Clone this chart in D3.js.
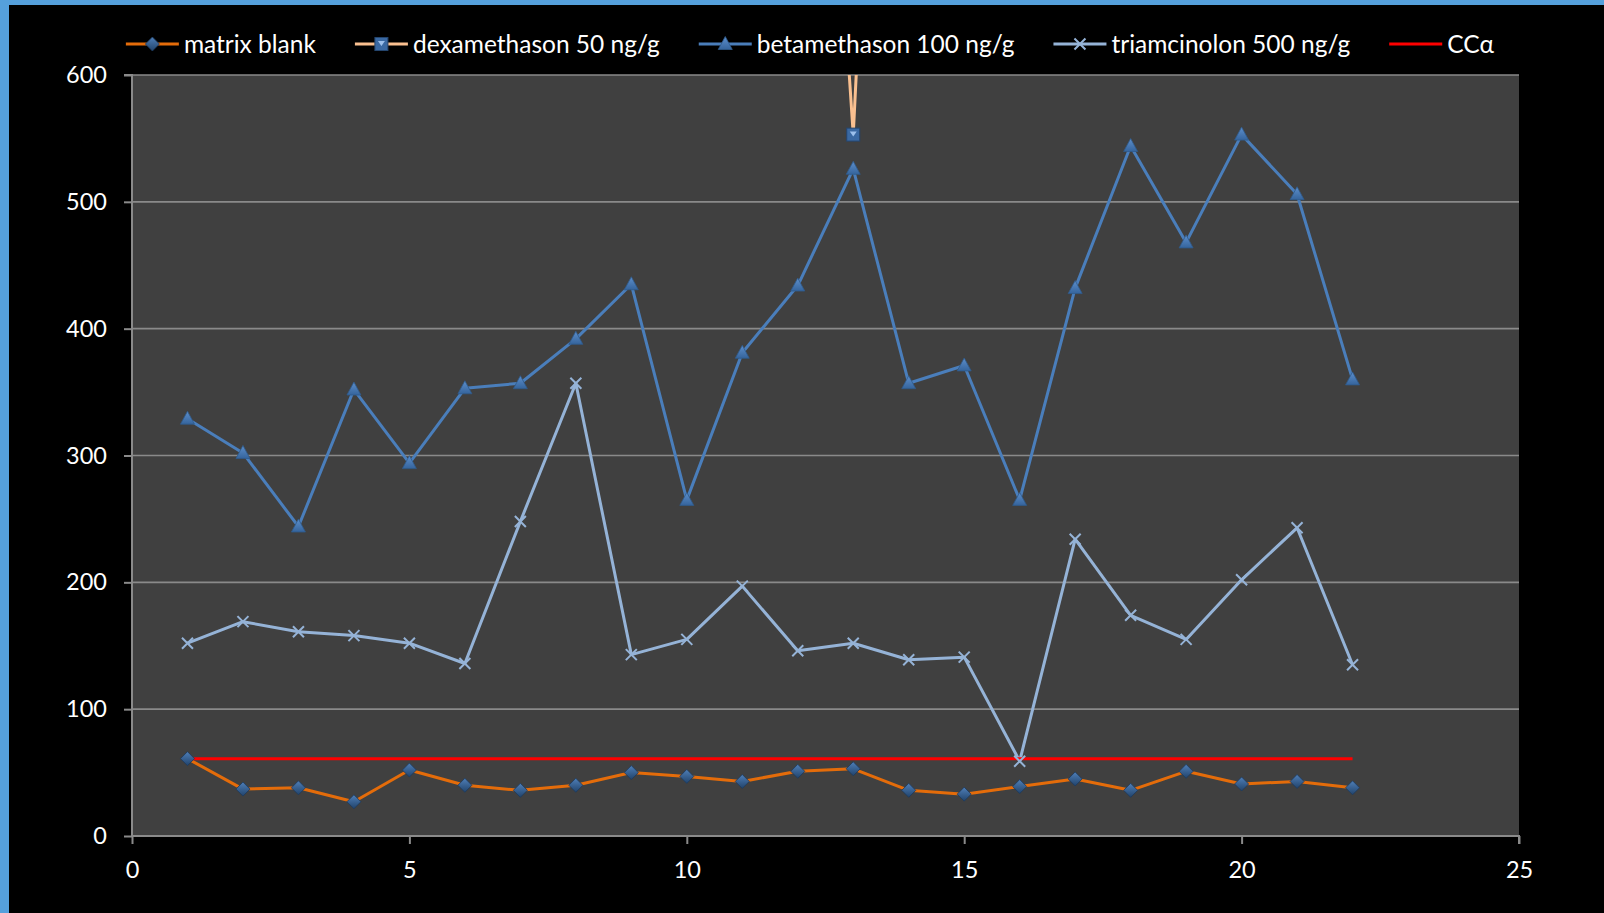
<!DOCTYPE html>
<html><head><meta charset="utf-8">
<script src="https://cdn.jsdelivr.net/npm/d3@7"></script>
<style>html,body{margin:0;padding:0;background:#000;}svg{display:block;}</style>
</head><body>
<svg id="chart" width="1604" height="913"></svg>
<script>
// ---- data ----
const xValues = [1,2,3,4,5,6,7,8,9,10,11,12,13,14,15,16,17,18,19,20,21,22];
const matrixBlank = [61,37,38,27,52,40,36,40,50,47,43,51,53,36,33,39,45,36,51,41,43,38];
// dexamethason: only x=13 lies inside the axis range; neighbours estimated from the line slopes, others off-scale (unreadable)
const dexamethason = [null,null,null,null,null,null,null,null,null,null,null,1210,553,1430,null,null,null,null,null,null,null,null];
const betamethason = [329,302,244,352,294,353,357,392,435,265,381,434,526,357,371,265,432,544,468,553,506,360];
const triamcinolon = [152,169,161,158,152,136,248,357,143,155,197,146,152,139,141,59,234,174,155,202,243,135];
const ccAlpha = [61,61,61,61,61,61,61,61,61,61,61,61,61,61,61,61,61,61,61,61,61,61];
const seriesNames = ["matrix blank","dexamethason 50 ng/g","betamethason 100 ng/g","triamcinolon 500 ng/g","CCα"];
const yTicks = [0,100,200,300,400,500,600];
const xTicks = [0,5,10,15,20,25];

// ---- layout ----
const W = 1604, H = 913;
const plot = {left:132, right:1519, top:75, bottom:836};
const svg = d3.select("#chart");
const FONT = "Lato, 'Open Sans', sans-serif";

svg.append("rect").attr("width",W).attr("height",H).attr("fill","#000");
svg.append("rect").attr("x",0).attr("y",0).attr("width",9).attr("height",H).attr("fill","#55a0dc");
svg.append("rect").attr("x",0).attr("y",0).attr("width",W).attr("height",5).attr("fill","#55a0dc");

const x = d3.scaleLinear().domain([0,25]).range([plot.left, plot.right]);
const y = d3.scaleLinear().domain([0,600]).range([plot.bottom, plot.top]);

svg.append("rect").attr("x",plot.left).attr("y",plot.top)
  .attr("width",plot.right-plot.left).attr("height",plot.bottom-plot.top).attr("fill","#404040");

// gridlines
svg.append("g").selectAll("line").data(yTicks.filter(d=>d>0)).join("line")
  .attr("x1",plot.left).attr("x2",plot.right)
  .attr("y1",d=>y(d)).attr("y2",d=>y(d))
  .attr("stroke","#8a8a8a").attr("stroke-width",1.6);

// axes
const axisColor = "#8a8a8a";
const yAxis = svg.append("g").attr("transform",`translate(${plot.left},0)`)
  .call(d3.axisLeft(y).tickValues(yTicks).tickSize(8).tickPadding(17).tickFormat(d3.format("d")));
const xAxis = svg.append("g").attr("transform",`translate(0,${plot.bottom})`)
  .call(d3.axisBottom(x).tickValues(xTicks).tickSize(8).tickPadding(17).tickFormat(d3.format("d")));
[yAxis,xAxis].forEach(g=>{
  g.select(".domain").attr("stroke",axisColor).attr("stroke-width",2);
  g.selectAll(".tick line").attr("stroke",axisColor).attr("stroke-width",2);
  g.selectAll("text").attr("fill","#fff").attr("font-family",FONT).attr("font-size",23.5);
});
yAxis.select(".domain").attr("d",`M-8,${plot.top}H0V${plot.bottom}`);
xAxis.select(".domain").attr("d",`M${plot.left},0H${plot.right}V8`);

// clip
svg.append("clipPath").attr("id","clip").append("rect")
  .attr("x",plot.left).attr("y",plot.top).attr("width",plot.right-plot.left).attr("height",plot.bottom-plot.top);

const defs = svg.append("defs");
const gradDia = defs.append("linearGradient").attr("id","gDia").attr("x1",0).attr("y1",0).attr("x2",0).attr("y2",1);
gradDia.append("stop").attr("offset","0%").attr("stop-color","#4f7fb8");
gradDia.append("stop").attr("offset","100%").attr("stop-color","#21436b");
const gradTri = defs.append("linearGradient").attr("id","gTri").attr("x1",0).attr("y1",0).attr("x2",0).attr("y2",1);
gradTri.append("stop").attr("offset","0%").attr("stop-color","#5d8fcc");
gradTri.append("stop").attr("offset","100%").attr("stop-color","#35649c");

const series = [
  {name:seriesNames[0], values:matrixBlank, color:"#E46C0A", marker:"diamond"},
  {name:seriesNames[1], values:dexamethason, color:"#FAC090", marker:"square"},
  {name:seriesNames[2], values:betamethason, color:"#4A7EBB", marker:"triangle"},
  {name:seriesNames[3], values:triamcinolon, color:"#95B3D7", marker:"x"},
  {name:seriesNames[4], values:ccAlpha, color:"#FF0000", marker:null}
];

const plotG = svg.append("g").attr("clip-path","url(#clip)");
const line = d3.line().defined(d=>d[1]!==null).x(d=>x(d[0])).y(d=>y(d[1]));
series.forEach(s=>{
  plotG.append("path").datum(xValues.map((xv,i)=>[xv,s.values[i]]))
    .attr("d",line).attr("fill","none").attr("stroke",s.color)
    .attr("stroke-width",3).attr("stroke-linejoin","round");
});

function drawMarker(g, type, cx, cy){
  if(type==="diamond"){
    g.append("path").attr("d",`M${cx},${cy-7}L${cx+7},${cy}L${cx},${cy+7}L${cx-7},${cy}Z`)
      .attr("fill","url(#gDia)").attr("stroke","#1c3a5e").attr("stroke-width",0.8);
  } else if(type==="triangle"){
    g.append("path").attr("d",`M${cx},${cy-7.5}L${cx+7},${cy+5.5}L${cx-7},${cy+5.5}Z`)
      .attr("fill","url(#gTri)").attr("stroke","#2f5a8c").attr("stroke-width",0.8);
  } else if(type==="square"){
    g.append("rect").attr("x",cx-6.5).attr("y",cy-6.5).attr("width",13).attr("height",13)
      .attr("fill","#3a69a3").attr("stroke","#24456e").attr("stroke-width",1);
    g.append("path").attr("d",`M${cx-3.5},${cy-3}L${cx+3.5},${cy-3}L${cx},${cy+2}Z`).attr("fill","#9cc0ec");
  } else if(type==="x"){
    g.append("path").attr("d",`M${cx-5.5},${cy-5.5}L${cx+5.5},${cy+5.5}M${cx-5.5},${cy+5.5}L${cx+5.5},${cy-5.5}`)
      .attr("stroke","#95B3D7").attr("stroke-width",2).attr("fill","none");
  }
}
series.forEach(s=>{
  if(!s.marker) return;
  const mg = plotG.append("g");
  xValues.forEach((xv,i)=>{
    const v = s.values[i];
    if(v===null || v>600 || v<0) return;
    drawMarker(mg, s.marker, x(xv), y(v));
  });
});

// legend
const legY = 44, lineLen = 53, textGap = 5, itemGap = 39, legCenter = 810;
const legG = svg.append("g");
const items = series.map(s=>{
  const g = legG.append("g");
  g.append("line").attr("x1",0).attr("x2",lineLen).attr("y1",legY).attr("y2",legY)
    .attr("stroke",s.color).attr("stroke-width",3);
  if(s.marker) drawMarker(g, s.marker, lineLen/2, legY);
  const t = g.append("text").attr("x",lineLen+textGap).attr("y",legY).attr("dy","0.35em")
    .attr("fill","#fff").attr("font-family",FONT).attr("font-size",24.5).text(s.name);
  return {g, w: lineLen+textGap+t.node().getComputedTextLength()};
});
const total = d3.sum(items,d=>d.w) + itemGap*(items.length-1);
let cur = legCenter - total/2;
items.forEach(it=>{ it.g.attr("transform",`translate(${cur},0)`); cur += it.w + itemGap; });
</script>
</body></html>
